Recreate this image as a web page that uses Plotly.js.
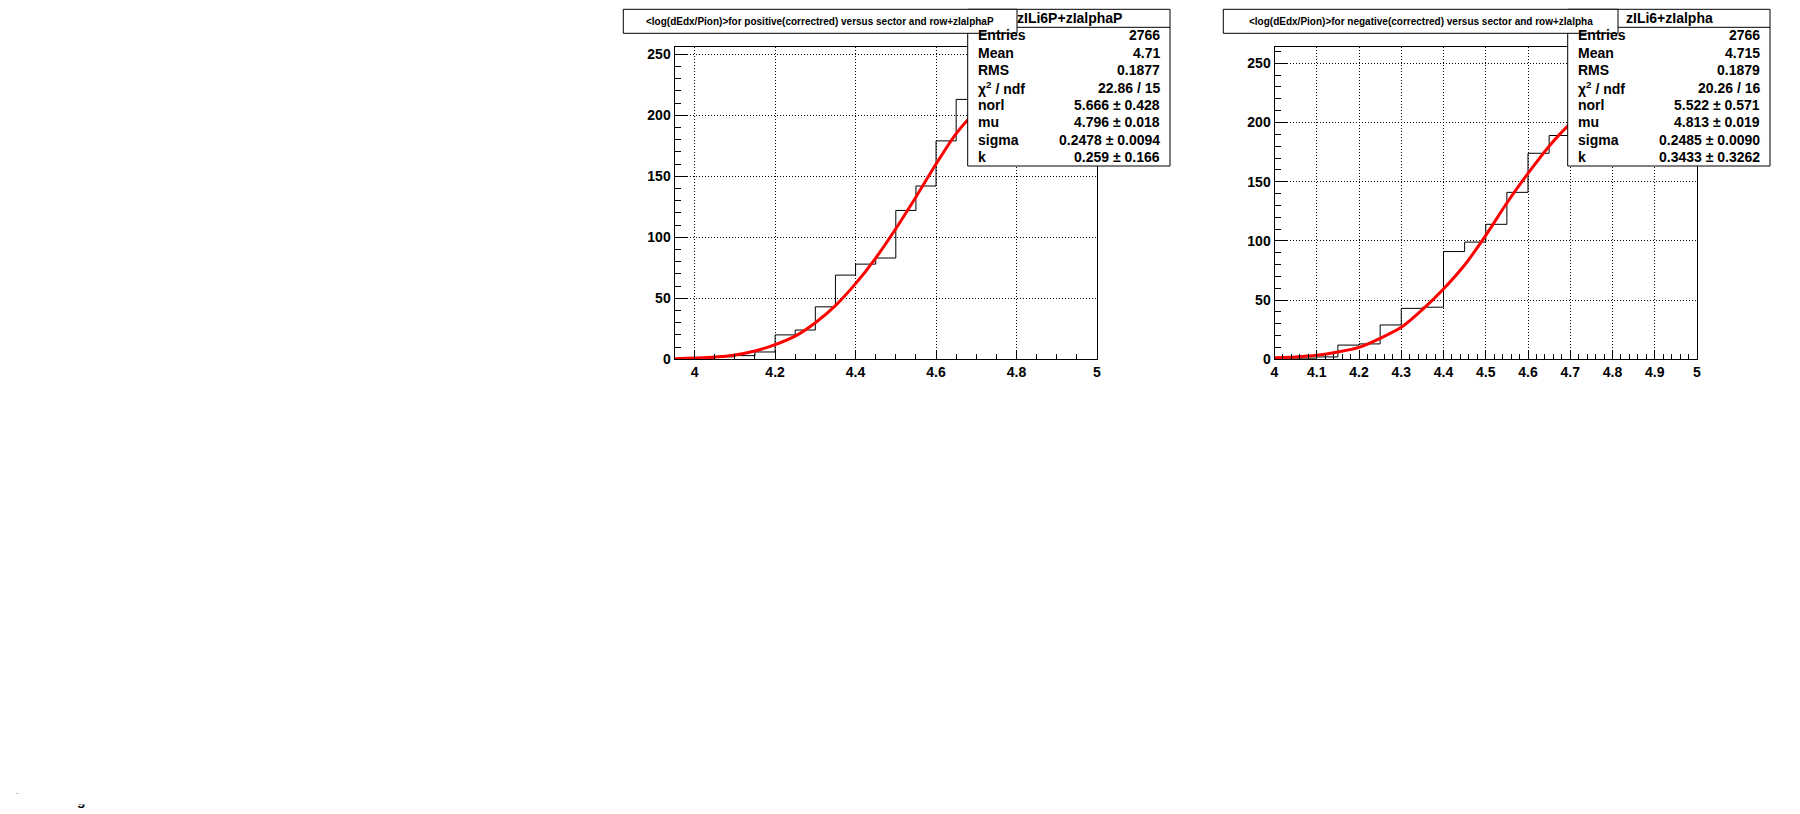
<!DOCTYPE html>
<html>
<head>
<meta charset="utf-8">
<script src="https://cdn.plot.ly/plotly-3.0.1.min.js"></script>
<style>html,body{margin:0;padding:0;background:#fff;}#chart{width:1800px;height:814px;}</style>
</head>
<body>
<div id="chart"></div>
<script>
// ---------- data ----------
const posBinLow = [3.95,4.00,4.05,4.10,4.15,4.20,4.25,4.30,4.35,4.40,4.45,4.50,4.55,4.60,4.65,4.70,4.75,4.80,4.85,4.90,4.95];
const posCounts = [0,1,2,3,6,20,24,43,69,78,83,122,142,179,213,215,243,221,205,198,185];
const posFitX = [3.95,4.00,4.05,4.10,4.15,4.20,4.25,4.30,4.35,4.40,4.45,4.50,4.55,4.60,4.65,4.70,4.75,4.80,4.85,4.90,4.95,5.00];
const posFitY = [0.5,1.0,1.8,3.6,6.8,12,19,30,44,62,83,107,133,160,185,203,214,218,216,207,190,168];

const negBinLow = [4.00,4.05,4.10,4.15,4.20,4.25,4.30,4.35,4.40,4.45,4.50,4.55,4.60,4.65,4.70,4.75,4.80,4.85,4.90,4.95];
const negCounts = [1,1,2,12,13,29,43,44,91,99,114,141,174,189,200,251,233,222,205,186];
const negFitX = [4.00,4.05,4.10,4.15,4.20,4.25,4.30,4.35,4.40,4.45,4.50,4.55,4.60,4.65,4.70,4.75,4.80,4.85,4.90,4.95,5.00];
const negFitY = [1.4,2.0,3.4,6.2,10.1,17.7,27,42,59.4,79.6,104.7,132,157,180,199,214,223,224,214,196,174];

const binWidth = 0.05;

const posTitle = "<log(dEdx/Pion)>for positive(correctred) versus sector and row+zIalphaP";
const negTitle = "<log(dEdx/Pion)>for negative(correctred) versus sector and row+zIalpha";
const posStatName = "zILi6P+zIalphaP";
const negStatName = "zILi6+zIalpha";
const statLabels = ["Entries","Mean","RMS","\u03c7<sup>2</sup> / ndf","norl","mu","sigma","k"];
const posStatValues = ["2766","4.71","0.1877","22.86 / 15","5.666 \u00b1 0.428","4.796 \u00b1 0.018","0.2478 \u00b1 0.0094","0.259 \u00b1 0.166"];
const negStatValues = ["2766","4.715","0.1879","20.26 / 16","5.522 \u00b1 0.571","4.813 \u00b1 0.019","0.2485 \u00b1 0.0090","0.3433 \u00b1 0.3262"];

// ---------- helpers ----------
const W = 1800, H = 814;
const fx = p => p / W;
const fy = p => 1 - p / H;

function stepXY(lows, counts) {
  const x = [lows[0]], y = [0];
  for (let i = 0; i < lows.length; i++) { x.push(lows[i]); y.push(counts[i]); }
  x.push(lows[lows.length - 1] + binWidth); y.push(counts[counts.length - 1]);
  return {x, y};
}

const pos = stepXY(posBinLow, posCounts);
const neg = stepXY(negBinLow, negCounts);

const traces = [
  {x: pos.x, y: pos.y, xaxis: 'x', yaxis: 'y', type: 'scatter', mode: 'lines',
   line: {shape: 'hv', color: '#000', width: 1}, hoverinfo: 'skip'},
  {x: posFitX, y: posFitY, xaxis: 'x', yaxis: 'y', type: 'scatter', mode: 'lines',
   line: {shape: 'spline', smoothing: 0.8, color: '#ff0000', width: 3}, hoverinfo: 'skip'},
  {x: neg.x, y: neg.y, xaxis: 'x2', yaxis: 'y2', type: 'scatter', mode: 'lines',
   line: {shape: 'hv', color: '#000', width: 1}, hoverinfo: 'skip'},
  {x: negFitX, y: negFitY, xaxis: 'x2', yaxis: 'y2', type: 'scatter', mode: 'lines',
   line: {shape: 'spline', smoothing: 0.8, color: '#ff0000', width: 3}, hoverinfo: 'skip'}
];

const tickFont = {family: 'Liberation Sans, Arial, sans-serif', size: 14, color: '#000', weight: 'bold'};

function xAxis(domain, range, dtick, minorDtick, anchor) {
  return {domain, range, anchor, tick0: 4, dtick, ticks: 'inside', ticklen: 9, tickwidth: 1, tickcolor: '#000',
    minor: {dtick: minorDtick, ticks: 'inside', ticklen: 5, tickwidth: 1, tickcolor: '#000', showgrid: false},
    showline: true, linecolor: '#000', linewidth: 1, mirror: true,
    showgrid: true, gridcolor: '#000', gridwidth: 1, griddash: '1px,2px',
    zeroline: false, tickfont: tickFont, fixedrange: true};
}
function yAxis(range, anchor) {
  return {domain: [fy(359.3), fy(47.3)], range, anchor, tick0: 0, dtick: 50, ticks: 'inside', ticklen: 12, tickwidth: 1, tickcolor: '#000',
    minor: {dtick: 10, ticks: 'inside', ticklen: 6, tickwidth: 1, tickcolor: '#000', showgrid: false},
    showline: true, linecolor: '#000', linewidth: 1, mirror: true,
    showgrid: true, gridcolor: '#000', gridwidth: 1, griddash: '1px,2px',
    zeroline: false, tickfont: tickFont, fixedrange: true};
}

const shapes = [];
const annotations = [];
const statFont = {family: 'Liberation Sans, Arial, sans-serif', size: 14, color: '#000', weight: 'bold'};

function addPanel(offset, title, statName, statValues, titleRight) {
  // stats box
  const sx0 = 967.7 + offset, sx1 = 1170 + offset, sy0 = 9.3, sy1 = 166, sh = 27.3;
  shapes.push({type: 'rect', xref: 'paper', yref: 'paper', x0: fx(sx0), x1: fx(sx1), y0: fy(sy1), y1: fy(sy0),
    fillcolor: '#fff', line: {color: '#000', width: 1}, layer: 'above'});
  shapes.push({type: 'line', xref: 'paper', yref: 'paper', x0: fx(sx0), x1: fx(sx1), y0: fy(sh), y1: fy(sh),
    line: {color: '#000', width: 1}, layer: 'above'});
  // title box
  const tx0 = 623.3 + offset, tx1 = titleRight + offset, ty0 = 9.3, ty1 = 33.3;
  shapes.push({type: 'rect', xref: 'paper', yref: 'paper', x0: fx(tx0), x1: fx(tx1), y0: fy(ty1), y1: fy(ty0),
    fillcolor: '#fff', line: {color: '#000', width: 1}, layer: 'above'});
  annotations.push({xref: 'paper', yref: 'paper', x: fx((tx0 + tx1) / 2), y: fy(21.8), xanchor: 'center', yanchor: 'middle',
    text: title.replace(/</g, '&lt;').replace(/>/g, '&gt;'), showarrow: false,
    font: {family: 'Liberation Sans, Arial, sans-serif', size: 10, color: '#000', weight: 'bold'}});
  // stats header
  annotations.push({xref: 'paper', yref: 'paper', x: fx((sx0 + sx1) / 2 + 1), y: fy(18.3), xanchor: 'center', yanchor: 'middle',
    text: statName, showarrow: false, font: statFont});
  const rows = [35.5, 53, 70.3, 88.3, 105, 122, 140, 157];
  for (let i = 0; i < statLabels.length; i++) {
    annotations.push({xref: 'paper', yref: 'paper', x: fx(sx0 + 8.5), y: fy(rows[i]), xanchor: 'left', yanchor: 'middle',
      text: statLabels[i], showarrow: false, font: statFont});
    annotations.push({xref: 'paper', yref: 'paper', x: fx(sx1 - 8.5), y: fy(rows[i]), xanchor: 'right', yanchor: 'middle',
      text: statValues[i], showarrow: false, font: statFont});
  }
}
addPanel(0, posTitle, posStatName, posStatValues, 1017);
addPanel(600, negTitle, negStatName, negStatValues, 1018);

// clipped remnants of text at the bottom-left corner of the canvas
annotations.push({xref: 'paper', yref: 'paper', x: fx(17), y: fy(791), xanchor: 'center', yanchor: 'middle',
  text: '.', showarrow: false, font: {family: 'Liberation Sans, Arial', size: 8, color: '#000'}});
annotations.push({xref: 'paper', yref: 'paper', x: fx(81), y: fy(800), xanchor: 'center', yanchor: 'middle',
  text: 'g', showarrow: false, font: {family: 'Liberation Sans, Arial', size: 14, color: '#000', weight: 'bold'}});
annotations.push({xref: 'paper', yref: 'paper', x: fx(81), y: fy(795), xanchor: 'center', yanchor: 'middle',
  text: '&nbsp;', showarrow: false, width: 16, height: 18, bgcolor: '#fff', borderpad: 0,
  font: {family: 'Liberation Sans, Arial', size: 8, color: '#fff'}});

const layout = {
  width: W, height: H, margin: {l: 0, r: 0, t: 0, b: 0}, paper_bgcolor: '#fff', plot_bgcolor: '#fff',
  showlegend: false,
  xaxis: xAxis([fx(674.5), fx(1097)], [3.95, 5], 0.2, 0.05, 'y'),
  yaxis: yAxis([0, 255.7], 'x'),
  xaxis2: xAxis([fx(1274.5), fx(1697)], [4, 5], 0.1, 0.02, 'y2'),
  yaxis2: yAxis([0, 263.5], 'x2'),
  shapes, annotations
};

Plotly.newPlot('chart', traces, layout, {staticPlot: true, displayModeBar: false});
</script>
</body>
</html>
